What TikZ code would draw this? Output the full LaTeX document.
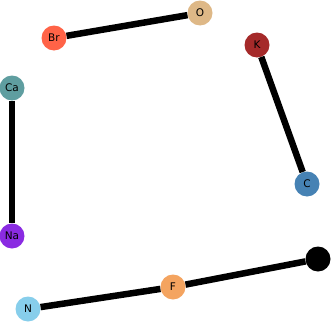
\documentclass[tikz,border=0pt]{standalone}
\usepackage{fontspec}
\setmainfont{DejaVu Sans}
\definecolor{cBr}{HTML}{FF6347}
\definecolor{cO}{HTML}{DEB887}
\definecolor{cK}{HTML}{A52A2A}
\definecolor{cC}{HTML}{4682B4}
\definecolor{cCa}{HTML}{5F9EA0}
\definecolor{cNa}{HTML}{8A2BE2}
\definecolor{cF}{HTML}{F4A460}
\definecolor{cN}{HTML}{87CEEB}
\begin{document}
\begin{tikzpicture}[x=1pt,y=-1pt,
  atom/.style={circle,inner sep=0pt,minimum size=25pt,font=\fontsize{10.5}{10.5}\selectfont},
  bond/.style={line width=6.5pt}]
\useasboundingbox (0,0) rectangle (332,324);
\node[atom,fill=cBr] (Br) at (54,38) {Br};
\node[atom,fill=cO] (O) at (200,13) {O};
\node[atom,fill=cK] (K) at (257,45) {K};
\node[atom,fill=cC] (C) at (307,184) {C};
\node[atom,fill=cCa] (Ca) at (12,88) {Ca};
\node[atom,fill=cNa] (Na) at (12,236) {Na};
\node[atom,fill=cN] (N) at (28,309) {N};
\node[atom,fill=cF] (F) at (173,287) {F};
\node[atom,fill=black] (X) at (318,259) {};
\draw[bond] (Br) -- (O);
\draw[bond] (K) -- (C);
\draw[bond] (Ca) -- (Na);
\draw[bond] (N) -- (F);
\draw[bond] (F) -- (X);
\end{tikzpicture}
\end{document}
